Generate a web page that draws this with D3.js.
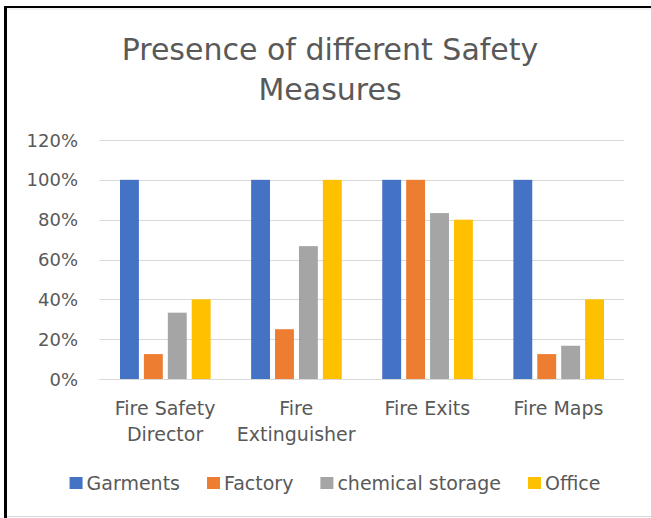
<!DOCTYPE html>
<html>
<head>
<meta charset="utf-8">
<script src="https://cdn.jsdelivr.net/npm/d3@7"></script>
<style>
  body { margin: 0; background: #fff; }
  svg text { font-family: "DejaVu Sans", sans-serif; fill: #595959; }
</style>
</head>
<body>
<div id="chart"></div>
<script>
// set dimensions
var width = 651;
var height = 518;
var margin = {top: 140, right: 27, bottom: 139, left: 99.5};

// data
var categories = ["Fire Safety Director", "Fire Extinguisher", "Fire Exits", "Fire Maps"];
var categoryLines = [["Fire Safety", "Director"], ["Fire", "Extinguisher"], ["Fire Exits"], ["Fire Maps"]];
var seriesNames = ["Garments", "Factory", "chemical storage", "Office"];
var garments = [1, 1, 1, 1];
var factory = [0.125, 0.25, 1, 0.125];
var chemical = [0.333, 0.667, 0.833, 0.167];
var office = [0.4, 1, 0.8, 0.4];
var yTicks = [0, 0.2, 0.4, 0.6, 0.8, 1, 1.2];
var titleLines = ["Presence of different Safety", "Measures"];

var seriesValues = [garments, factory, chemical, office];
var colors = ["#4472C4", "#ED7D31", "#A5A5A5", "#FFC000"];

var svg = d3.select("#chart")
  .append("svg")
    .attr("width", width)
    .attr("height", height);

// frame
svg.append("line").attr("x1", 7).attr("x2", width).attr("y1", 516.5).attr("y2", 516.5)
  .attr("stroke", "#d9d9d9").attr("stroke-width", 1);
svg.append("line").attr("x1", 7).attr("x2", width).attr("y1", 9).attr("y2", 9)
  .attr("stroke", "#e6e6e6").attr("stroke-width", 1);
svg.append("line").attr("x1", 5.5).attr("x2", 5.5).attr("y1", 6).attr("y2", height)
  .attr("stroke", "#000").attr("stroke-width", 3);
svg.append("line").attr("x1", 4).attr("x2", width).attr("y1", 7).attr("y2", 7)
  .attr("stroke", "#000").attr("stroke-width", 2);

// title
svg.append("text")
  .attr("text-anchor", "middle")
  .style("font-size", "30px")
  .selectAll("tspan")
  .data(titleLines)
  .enter()
  .append("tspan")
    .attr("x", 330)
    .attr("y", function(d, i) { return 60 + i * 40; })
    .text(function(d) { return d; });

// scales
var x = d3.scaleBand()
  .domain(categories)
  .range([margin.left, width - margin.right])
  .padding(0);

var inner = 20.5;
var xs = d3.scaleBand()
  .domain(seriesNames)
  .range([inner, x.bandwidth() - 20])
  .paddingInner(0.21)
  .paddingOuter(0);

var y = d3.scaleLinear()
  .domain([0, 1.2])
  .range([height - margin.bottom, margin.top]);

// gridlines
svg.append("g")
  .selectAll("line")
  .data(yTicks)
  .enter()
  .append("line")
    .attr("x1", margin.left)
    .attr("x2", width - margin.right)
    .attr("y1", function(d) { return Math.round(y(d)) + 0.5; })
    .attr("y2", function(d) { return Math.round(y(d)) + 0.5; })
    .attr("stroke", "#d9d9d9")
    .attr("stroke-width", 1);

// y labels
svg.append("g")
  .selectAll("text")
  .data(yTicks)
  .enter()
  .append("text")
    .attr("x", 78)
    .attr("y", function(d) { return y(d) + 6.5; })
    .attr("text-anchor", "end")
    .style("font-size", "18px")
    .text(d3.format(".0%"));

// bars
var groups = svg.append("g")
  .selectAll("g")
  .data(categories)
  .enter()
  .append("g")
    .attr("transform", function(d) { return "translate(" + x(d) + ",0)"; });

groups.selectAll("rect")
  .data(function(d, ci) {
    return seriesNames.map(function(s, si) { return {series: s, si: si, value: seriesValues[si][ci]}; });
  })
  .enter()
  .append("rect")
    .attr("x", function(d) { return xs(d.series); })
    .attr("width", xs.bandwidth())
    .attr("y", function(d) { return y(d.value); })
    .attr("height", function(d) { return y(0) - y(d.value); })
    .attr("fill", function(d) { return colors[d.si]; });

// baseline
svg.append("line")
  .attr("x1", margin.left).attr("x2", width - margin.right)
  .attr("y1", Math.round(y(0)) + 0.5).attr("y2", Math.round(y(0)) + 0.5)
  .attr("stroke", "#d9d9d9");

// category labels
svg.append("g")
  .selectAll("text")
  .data(categories)
  .enter()
  .append("text")
    .attr("text-anchor", "middle")
    .style("font-size", "19px")
  .selectAll("tspan")
  .data(function(d, i) { return categoryLines[i].map(function(t) { return {t: t, c: d}; }); })
  .enter()
  .append("tspan")
    .attr("x", function(d) { return x(d.c) + x.bandwidth() / 2; })
    .attr("y", function(d, i) { return 415 + i * 26; })
    .text(function(d) { return d.t; });

// legend
var legend = svg.append("g");
var items = legend.selectAll("g")
  .data(seriesNames)
  .enter()
  .append("g");

items.append("rect")
  .attr("width", 13)
  .attr("height", 12)
  .attr("y", 477)
  .attr("fill", function(d, i) { return colors[i]; });

items.append("text")
  .attr("x", 17)
  .attr("y", 490)
  .style("font-size", "19px")
  .text(function(d) { return d; });

var gap = 27;
var pos = 0;
var offsets = [];
items.each(function() {
  offsets.push(pos);
  pos += 17 + d3.select(this).select("text").node().getComputedTextLength() + gap;
});
var total = pos - gap;
var start = 335 - total / 2;
items.attr("transform", function(d, i) { return "translate(" + (start + offsets[i]) + ",0)"; });
</script>
</body>
</html>
